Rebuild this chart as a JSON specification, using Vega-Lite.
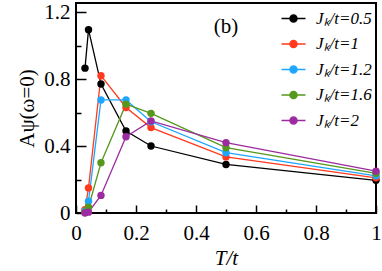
{
  "$schema": "https://vega.github.io/schema/vega-lite/v6.json",
  "width": 300,
  "height": 210,
  "autosize": "none",
  "padding": {"left": 76, "top": 3, "right": 6, "bottom": 58},
  "config": {
    "view": {"stroke": "black", "strokeWidth": 2},
    "font": "Liberation Serif",
    "axis": {
      "domain": false,
      "grid": false,
      "ticks": true,
      "labelFont": "Liberation Serif",
      "labelFontSize": 21,
      "labelColor": "black",
      "tickColor": "#000000",
      "tickOpacity": 1,
      "tickWidth": 1.5,
      "titleFont": "Liberation Serif",
      "titleFontSize": 21,
      "titleFontWeight": "normal",
      "titleColor": "black"
    }
  },
  "data": {
    "values": [
      {"s": "Jₖ/t=0.5", "T": 0.03, "A": 0.865},
      {"s": "Jₖ/t=0.5", "T": 0.0417, "A": 1.095},
      {"s": "Jₖ/t=0.5", "T": 0.0833, "A": 0.77},
      {"s": "Jₖ/t=0.5", "T": 0.1667, "A": 0.49},
      {"s": "Jₖ/t=0.5", "T": 0.25, "A": 0.40},
      {"s": "Jₖ/t=0.5", "T": 0.5, "A": 0.29},
      {"s": "Jₖ/t=0.5", "T": 1.0, "A": 0.195},
      {"s": "Jₖ/t=1", "T": 0.03, "A": 0.02},
      {"s": "Jₖ/t=1", "T": 0.0417, "A": 0.15},
      {"s": "Jₖ/t=1", "T": 0.0833, "A": 0.82},
      {"s": "Jₖ/t=1", "T": 0.1667, "A": 0.63},
      {"s": "Jₖ/t=1", "T": 0.25, "A": 0.51},
      {"s": "Jₖ/t=1", "T": 0.5, "A": 0.335},
      {"s": "Jₖ/t=1", "T": 1.0, "A": 0.21},
      {"s": "Jₖ/t=1.2", "T": 0.03, "A": 0.01},
      {"s": "Jₖ/t=1.2", "T": 0.0417, "A": 0.07},
      {"s": "Jₖ/t=1.2", "T": 0.0833, "A": 0.675},
      {"s": "Jₖ/t=1.2", "T": 0.1667, "A": 0.675},
      {"s": "Jₖ/t=1.2", "T": 0.25, "A": 0.545},
      {"s": "Jₖ/t=1.2", "T": 0.5, "A": 0.36},
      {"s": "Jₖ/t=1.2", "T": 1.0, "A": 0.222},
      {"s": "Jₖ/t=1.6", "T": 0.03, "A": 0.005},
      {"s": "Jₖ/t=1.6", "T": 0.0417, "A": 0.035},
      {"s": "Jₖ/t=1.6", "T": 0.0833, "A": 0.30},
      {"s": "Jₖ/t=1.6", "T": 0.1667, "A": 0.65},
      {"s": "Jₖ/t=1.6", "T": 0.25, "A": 0.595},
      {"s": "Jₖ/t=1.6", "T": 0.5, "A": 0.39},
      {"s": "Jₖ/t=1.6", "T": 1.0, "A": 0.237},
      {"s": "Jₖ/t=2", "T": 0.03, "A": 0.0},
      {"s": "Jₖ/t=2", "T": 0.0417, "A": 0.005},
      {"s": "Jₖ/t=2", "T": 0.0833, "A": 0.105},
      {"s": "Jₖ/t=2", "T": 0.1667, "A": 0.455},
      {"s": "Jₖ/t=2", "T": 0.25, "A": 0.55},
      {"s": "Jₖ/t=2", "T": 0.5, "A": 0.42},
      {"s": "Jₖ/t=2", "T": 1.0, "A": 0.25}
    ]
  },
  "encoding": {
    "x": {
      "field": "T", "type": "quantitative",
      "scale": {"domain": [0, 1], "nice": false, "zero": false},
      "axis": {
        "title": "T/t",
        "titleFontStyle": "italic",
        "titlePadding": 4,
        "ticks": true,
        "tickColor": "#000000",
        "tickWidth": 1.5,
        "values": [0, 0.1, 0.2, 0.3, 0.4, 0.5, 0.6, 0.7, 0.8, 0.9, 1],
        "labelExpr": "round(datum.value*10)%2==0 ? (datum.value==0 ? '0' : datum.value==1 ? '1' : format(datum.value, '.1f')) : ''",
        "tickSize": {"condition": {"test": "round(datum.value*10)%2==0", "value": -8}, "value": -4},
        "labelPadding": 17,
        "labelFlush": false
      }
    },
    "y": {
      "field": "A", "type": "quantitative",
      "scale": {"domain": [0, 1.254], "nice": false, "zero": false},
      "axis": {
        "title": "Aψ(ω=0)",
        "titlePadding": 6,
        "ticks": true,
        "tickColor": "#000000",
        "tickWidth": 1.5,
        "values": [0, 0.2, 0.4, 0.6, 0.8, 1.0, 1.2],
        "labelExpr": "round(datum.value*10)%4==0 ? (datum.value==0 ? '0' : format(datum.value, '.1f')) : ''",
        "tickSize": {"condition": {"test": "round(datum.value*10)%4==0", "value": -10}, "value": -5},
        "labelPadding": 16,
        "labelFlush": false
      }
    },
    "color": {
      "field": "s", "type": "nominal",
      "scale": {
        "domain": ["Jₖ/t=0.5", "Jₖ/t=1", "Jₖ/t=1.2", "Jₖ/t=1.6", "Jₖ/t=2"],
        "range": ["#000000", "#ff3a1f", "#1ea6ff", "#55981c", "#9b2b9e"]
      },
      "legend": {
        "title": null,
        "orient": "none",
        "legendX": 209,
        "legendY": 7,
        "padding": 0,
        "symbolType": "M-2,0H2M-0.6,0A0.6,0.6 0 1,1 0.6,0A0.6,0.6 0 1,1 -0.6,0Z",
        "symbolSize": 144,
        "symbolStrokeWidth": 1.3,
        "labelFont": "Liberation Serif",
        "labelFontStyle": "italic",
        "labelFontSize": 17,
        "labelColor": "black",
        "labelOffset": 14,
        "rowPadding": 7.5
      }
    }
  },
  "layer": [
    {"mark": {"type": "line", "strokeWidth": 1.3}},
    {"mark": {"type": "circle", "size": 55, "opacity": 1}},
    {
      "data": {"values": [{"T": 0.5, "A": 1.11, "label": "(b)"}]},
      "mark": {"type": "text", "fontSize": 21, "font": "Liberation Serif", "color": "black"},
      "encoding": {
        "x": {"field": "T", "type": "quantitative"},
        "y": {"field": "A", "type": "quantitative"},
        "text": {"field": "label"},
        "color": null
      }
    }
  ]
}
